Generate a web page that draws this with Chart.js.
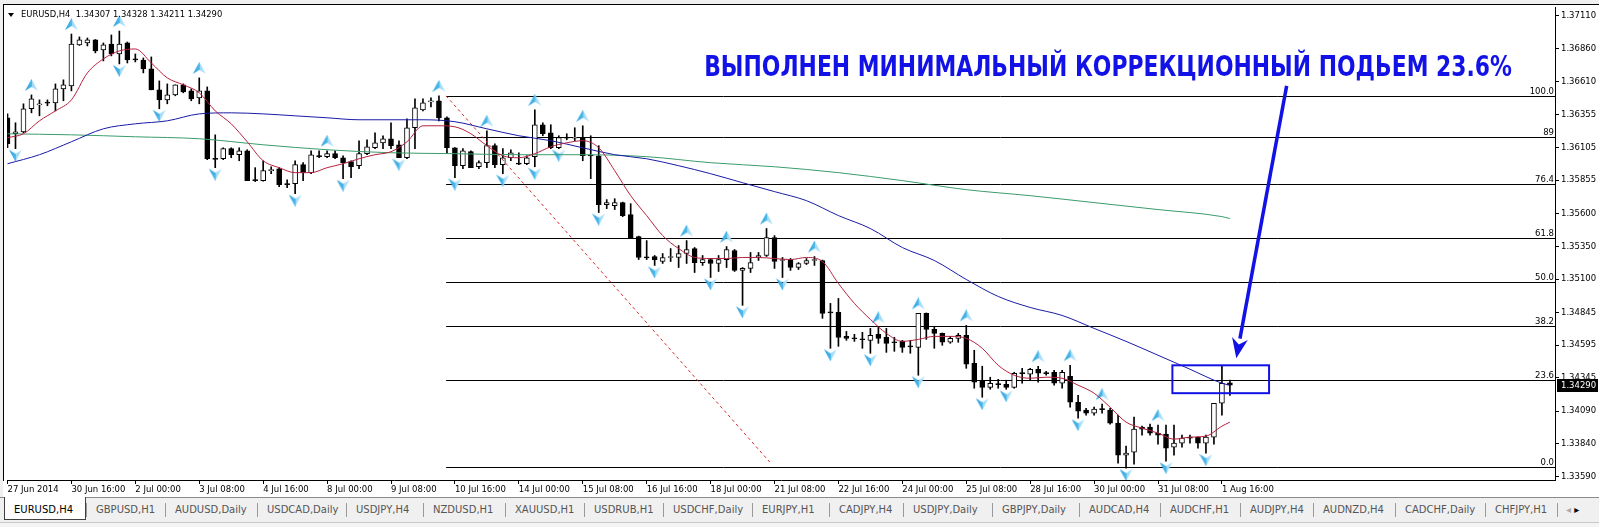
<!DOCTYPE html>
<html>
<head>
<meta charset="utf-8">
<title>EURUSD,H4</title>
<script src="https://cdn.jsdelivr.net/npm/chart.js@4.4.1/dist/chart.umd.min.js"></script>
<style>
  html, body { margin: 0; padding: 0; background: #f0f0f0; }
  #wrap { position: absolute; left: 0; top: 0; width: 1599px; height: 497px; background: #fff; }
  #tabs { position: absolute; left: 0; top: 497px; width: 1599px; height: 30px; background: #f0f0f0;
          border-top: 1px solid #8a8a8a; font: 10px 'DejaVu Sans', sans-serif; color: #555; }
  .tab { position: absolute; top: 6px; white-space: nowrap; }
  .sep { position: absolute; top: 5px; width: 1px; height: 14px; background: #9a9a9a; }
  .active { position: absolute; left: 4px; top: -1px; width: 80px; height: 22px; background: #fff;
            border: 1px solid #404040; border-top: none; }
  .status { position: absolute; left: 0; top: 24px; width: 1599px; height: 6px; border-top: 1px solid #c8c8c8; background: #f4f4f4; }
</style>
</head>
<body>
<div id="wrap"><canvas id="graph"></canvas></div>
<div id="tabs"></div>
<script>
// EURUSD H4 bars, 27 Jun 2014 .. 1 Aug 2014 20:00
const opens = [1.36332,1.36210,1.36225,1.36401,1.36431,1.36446,1.36446,1.36553,1.36576,1.36889,
  1.36904,1.36927,1.36850,1.36896,1.36820,1.36904,1.36782,1.36774,1.36706,1.36546,
  1.36469,1.36507,1.36584,1.36538,1.36484,1.36538,1.36019,1.36019,1.36096,1.36050,
  1.36080,1.35859,1.35852,1.35928,1.35943,1.35829,1.35829,1.35974,1.35913,1.36042,
  1.36035,1.36058,1.36027,1.35997,1.35966,1.36058,1.36103,1.36141,1.36172,1.36126,
  1.36027,1.36256,1.36393,1.36454,1.36462,1.36332,1.36103,1.35966,1.36073,1.35958,
  1.35989,1.36119,1.35974,1.36027,1.35981,1.35981,1.36035,1.36279,1.36218,1.36103,
  1.36180,1.36176,1.36180,1.36042,1.36042,1.35669,1.35661,1.35684,1.35592,1.35425,
  1.35265,1.35272,1.35234,1.35265,1.35265,1.35295,1.35333,1.35226,1.35249,1.35219,
  1.35249,1.35318,1.35166,1.35181,1.35265,1.35280,1.35417,1.35242,1.35249,1.35188,
  1.35219,1.35242,1.35242,1.34845,1.34845,1.34662,1.34647,1.34639,1.34632,1.34678,
  1.34655,1.34617,1.34624,1.34586,1.34578,1.34838,1.34716,1.34685,1.34617,1.34647,
  1.34670,1.34456,1.34319,1.34273,1.34296,1.34296,1.34273,1.34380,1.34373,1.34411,
  1.34380,1.34388,1.34304,1.34357,1.34159,1.34098,1.34075,1.34106,1.34098,1.33999,
  1.33755,1.33778,1.33969,1.33969,1.33923,1.33915,1.33816,1.33847,1.33892,1.33892,
  1.33847,1.33892,1.34151,1.34307];
const highs = [1.36362,1.36294,1.36439,1.36507,1.36469,1.36469,1.36591,1.36622,1.36972,1.36950,
  1.36942,1.36930,1.36904,1.36965,1.36995,1.36911,1.36820,1.36789,1.36797,1.36614,
  1.36591,1.36584,1.36591,1.36553,1.36637,1.36568,1.36202,1.36103,1.36103,1.36103,
  1.36088,1.35951,1.36004,1.35958,1.35951,1.35859,1.36004,1.35989,1.36080,1.36080,
  1.36080,1.36080,1.36042,1.36004,1.36157,1.36164,1.36218,1.36195,1.36294,1.36157,
  1.36324,1.36477,1.36477,1.36484,1.36500,1.36340,1.36105,1.36096,1.36080,1.36004,
  1.36233,1.36134,1.36096,1.36088,1.36065,1.36042,1.36393,1.36294,1.36279,1.36195,
  1.36210,1.36256,1.36271,1.36195,1.36119,1.35707,1.35714,1.35688,1.35676,1.35428,
  1.35394,1.35280,1.35295,1.35333,1.35356,1.35394,1.35341,1.35280,1.35257,1.35280,
  1.35348,1.35326,1.35188,1.35303,1.35303,1.35486,1.35432,1.35265,1.35257,1.35226,
  1.35257,1.35272,1.35245,1.34914,1.34952,1.34700,1.34678,1.34693,1.34723,1.34731,
  1.34723,1.34655,1.34632,1.34632,1.34838,1.34841,1.34731,1.34688,1.34662,1.34685,
  1.34746,1.34556,1.34434,1.34350,1.34334,1.34327,1.34388,1.34418,1.34418,1.34434,
  1.34395,1.34403,1.34403,1.34441,1.34212,1.34113,1.34121,1.34144,1.34113,1.34060,
  1.33824,1.34045,1.33976,1.33991,1.33984,1.33984,1.33984,1.33908,1.33908,1.33895,
  1.33908,1.34151,1.34434,1.34328];
const lows = [1.36103,1.36096,1.36218,1.36370,1.36347,1.36424,1.36385,1.36462,1.36538,1.36885,
  1.36881,1.36828,1.36767,1.36805,1.36744,1.36751,1.36759,1.36675,1.36546,1.36401,
  1.36439,1.36500,1.36523,1.36462,1.36439,1.36012,1.35951,1.36012,1.36027,1.36004,
  1.35852,1.35845,1.35848,1.35905,1.35806,1.35798,1.35753,1.35852,1.35905,1.36027,
  1.36027,1.36019,1.35867,1.35875,1.35943,1.36050,1.36096,1.36096,1.36096,1.36027,
  1.36020,1.36096,1.36385,1.36416,1.36309,1.36058,1.35875,1.35943,1.35951,1.35943,
  1.35951,1.35951,1.35905,1.36004,1.35974,1.35974,1.35958,1.36195,1.36096,1.36096,
  1.36164,1.36157,1.36004,1.35867,1.35608,1.35638,1.35631,1.35577,1.35417,1.35249,
  1.35249,1.35204,1.35219,1.35234,1.35188,1.35219,1.35150,1.35204,1.35112,1.35158,
  1.35188,1.35158,1.34899,1.35150,1.35242,1.35272,1.35181,1.35112,1.35166,1.35173,
  1.35211,1.35204,1.34800,1.34571,1.34586,1.34632,1.34624,1.34571,1.34533,1.34609,
  1.34540,1.34548,1.34540,1.34533,1.34365,1.34639,1.34571,1.34594,1.34609,1.34617,
  1.34418,1.34266,1.34197,1.34258,1.34266,1.34258,1.34266,1.34304,1.34327,1.34312,
  1.34365,1.34289,1.34266,1.34121,1.34037,1.34060,1.34060,1.34075,1.33991,1.33694,
  1.33656,1.33686,1.33908,1.33908,1.33839,1.33709,1.33755,1.33816,1.33847,1.33808,
  1.33770,1.33839,1.34060,1.34211];
const closes = [1.36134,1.36225,1.36401,1.36477,1.36439,1.36444,1.36553,1.36584,1.36896,1.36927,
  1.36927,1.36843,1.36889,1.36820,1.36896,1.36774,1.36774,1.36706,1.36546,1.36469,
  1.36507,1.36584,1.36530,1.36477,1.36538,1.36019,1.36015,1.36096,1.36050,1.36080,
  1.35852,1.35852,1.35928,1.35936,1.35821,1.35821,1.35974,1.35913,1.36050,1.36035,
  1.36058,1.36027,1.35989,1.35958,1.36058,1.36111,1.36141,1.36172,1.36119,1.36027,
  1.36256,1.36408,1.36446,1.36462,1.36332,1.36103,1.35966,1.36080,1.35951,1.35989,
  1.36119,1.35974,1.36027,1.36065,1.35978,1.36027,1.36279,1.36210,1.36103,1.36180,
  1.36176,1.36180,1.36042,1.36040,1.35669,1.35684,1.35684,1.35585,1.35417,1.35265,
  1.35262,1.35249,1.35265,1.35272,1.35295,1.35326,1.35226,1.35249,1.35219,1.35249,
  1.35326,1.35166,1.35181,1.35226,1.35280,1.35417,1.35234,1.35249,1.35188,1.35219,
  1.35242,1.35246,1.34838,1.34842,1.34655,1.34647,1.34644,1.34636,1.34670,1.34647,
  1.34609,1.34613,1.34578,1.34582,1.34838,1.34716,1.34685,1.34617,1.34647,1.34670,
  1.34449,1.34312,1.34273,1.34304,1.34293,1.34273,1.34380,1.34377,1.34411,1.34380,
  1.34377,1.34304,1.34388,1.34159,1.34090,1.34075,1.34106,1.34102,1.33999,1.33755,
  1.33770,1.33953,1.33953,1.33923,1.33908,1.33808,1.33847,1.33885,1.33885,1.33847,
  1.33892,1.34151,1.34304,1.34290];

// moving averages, read at sample bars
const maRedBars = [0,2,4,6,8,10,12,14,16,18,20,22,24,26,28,30,32,34,36,38,40,42,44,46,48,50,52,54,56,58,
  60,62,64,66,68,70,72,74,76,78,80,82,84,86,88,90,92,94,96,98,100,102,104,106,108,110,112,114,116,118,
  120,122,124,126,128,130,132,134,136,138,140,142,144,146,148,150,152,153];
const maRed = [1.36180,1.36210,1.36309,1.36385,1.36469,1.36675,1.36782,1.36843,1.36858,1.36751,
  1.36637,1.36584,1.36523,1.36385,1.36286,1.36149,1.36004,1.35951,1.35913,1.35913,
  1.35951,1.35981,1.36019,1.36050,1.36073,1.36149,1.36271,1.36271,1.36263,1.36210,
  1.36119,1.36042,1.36027,1.36058,1.36111,1.36141,1.36157,1.36103,1.35928,1.35737,
  1.35585,1.35432,1.35333,1.35265,1.35257,1.35257,1.35265,1.35265,1.35257,1.35249,
  1.35265,1.35234,1.35066,1.34914,1.34792,1.34685,1.34624,1.34639,1.34662,1.34662,
  1.34647,1.34571,1.34441,1.34365,1.34342,1.34350,1.34342,1.34289,1.34228,1.34121,
  1.34007,1.33961,1.33923,1.33877,1.33892,1.33900,1.33976,1.34007];
const maBlueBars = [0,4,8,12,16,20,24,28,32,36,40,44,48,52,56,60,64,68,72,76,80,84,88,92,96,100,
  104,108,112,116,120,124,128,132,136,140,144,148,152,153];
const maBlue = [1.35981,1.36050,1.36149,1.36248,1.36286,1.36309,1.36362,1.36370,1.36362,1.36347,
  1.36332,1.36317,1.36317,1.36317,1.36302,1.36248,1.36195,1.36157,1.36103,1.36050,
  1.36019,1.35966,1.35905,1.35836,1.35768,1.35699,1.35585,1.35486,1.35341,1.35242,
  1.35097,1.34967,1.34883,1.34822,1.34723,1.34624,1.34518,1.34411,1.34304,1.34289];
const maGreenBars = [0,8,16,24,32,40,48,56,64,72,80,88,96,104,112,120,128,136,144,152,153];
const maGreen = [1.36210,1.36202,1.36187,1.36172,1.36126,1.36088,1.36065,1.36058,1.36050,1.36050,
  1.36035,1.35989,1.35958,1.35913,1.35852,1.35783,1.35737,1.35684,1.35631,1.35577,1.35562];

// fractal bars
const fracUp = [3,8,14,24,40,54,60,66,72,85,90,95,101,109,114,120,129,133,137,144];
const fracDown = [1,14,19,26,36,42,49,56,62,66,69,74,81,88,92,97,103,108,114,122,125,134,140,145,150];

// axis labels
const dateBars = [0,8,16,24,32,40,48,56,64,72,80,88,96,104,112,120,128,136,144,152];
const dateLabels = ['27 Jun 2014','30 Jun 16:00','2 Jul 00:00','3 Jul 08:00','4 Jul 16:00','8 Jul 00:00',
  '9 Jul 08:00','10 Jul 16:00','14 Jul 00:00','15 Jul 08:00','16 Jul 16:00','18 Jul 00:00','21 Jul 08:00',
  '22 Jul 16:00','24 Jul 00:00','25 Jul 08:00','28 Jul 16:00','30 Jul 00:00','31 Jul 08:00','1 Aug 16:00'];
const priceTicks = [1.37110,1.36860,1.36610,1.36355,1.36105,1.35855,1.35600,1.35350,1.35100,
  1.34845,1.34595,1.34345,1.34090,1.33840,1.33590];

// fibo retracement
const fibLevels = [0, 23.6, 38.2, 50, 61.8, 76.4, 89, 100];
const fibNames = ['0.0','23.6','38.2','50.0','61.8','76.4','89','100.0'];
const fibHigh = 1.36495, fibLow = 1.33662, fibStart = 54.9;
const trendLine = [{x: 54.9, y: 1.36500}, {x: 95.4, y: 1.33702}];

const noteText = 'ВЫПОЛНЕН МИНИМАЛЬНЫЙ КОРРЕКЦИОННЫЙ ПОДЬЕМ 23.6%';

const tabNames = ['EURUSD,H4','GBPUSD,H1','AUDUSD,Daily','USDCAD,Daily','USDJPY,H4','NZDUSD,H1','XAUUSD,H1',
  'USDRUB,H1','USDCHF,Daily','EURJPY,H1','CADJPY,H4','USDJPY,Daily','GBPJPY,Daily','AUDCAD,H4','AUDCHF,H1',
  'AUDJPY,H4','AUDNZD,H4','CADCHF,Daily','CHFJPY,H1'];
const tabLeft = [14,96,175,267,356,433,515,594,673,762,839,913,1002,1089,1170,1250,1323,1405,1495];

const BLUE = '#1212e6';

window.onload = function () {
  buildTabs(document.querySelector('#tabs'));
  loadChart(document.querySelector('#graph'));
}

function buildTabs(el) {
  el.innerHTML = '<div class="active"></div><div class="status"></div>';
  tabNames.forEach((n, k) => {
    const t = document.createElement('div');
    t.className = 'tab';
    t.style.left = tabLeft[k] + 'px';
    t.style.color = k === 0 ? '#000' : '#555';
    t.textContent = n;
    el.appendChild(t);
    if (k > 0) {
      const s = document.createElement('div');
      s.className = 'sep';
      s.style.left = (tabLeft[k] - 10) + 'px';
      el.appendChild(s);
    }
  });
  const s = document.createElement('div');
  s.className = 'sep';
  s.style.left = '1557px';
  el.appendChild(s);
  const a = document.createElement('div');
  a.className = 'tab';
  a.style.left = '1566px';
  a.style.color = '#aaa';
  a.innerHTML = '&#9666; <span style="color:#000">&#9656;</span>';
  el.appendChild(a);
}

function arrowImage(up) {
  // fractal arrowhead, padded so that it sits off the bar's high/low
  const off = up ? 10 : 7;
  const c = document.createElement('canvas');
  c.width = 13; c.height = 2 * (off + 6);
  const g = c.getContext('2d');
  g.save();
  if (!up) { g.translate(0, c.height); g.scale(1, -1); }
  const grad = g.createLinearGradient(0, 0, 13, 0);
  grad.addColorStop(0, '#2a9fdc');
  grad.addColorStop(0.5, '#4fb8ea');
  grad.addColorStop(0.51, '#9ad8f6');
  grad.addColorStop(1, '#bfe6fa');
  g.fillStyle = grad;
  g.beginPath();
  g.moveTo(6.5, 0); g.lineTo(13, 12); g.lineTo(6.5, 8); g.lineTo(0, 12); g.closePath();
  g.fill();
  g.restore();
  return c;
}

function loadChart(element) {
  const idx = opens.map((v, i) => i);
  const bodies = idx.map(i => ({x: i, y: [opens[i], closes[i]]}));
  const wicks = idx.map(i => ({x: i, y: [lows[i], highs[i]]}));
  const bodyColors = idx.map(i => closes[i] >= opens[i] ? '#ffffff' : '#000000');
  const series = (bars, vals) => bars.map((b, k) => ({x: b, y: vals[k]}));

  const overlay = {
    id: 'overlay',
    beforeDraw(chart) {
      const {ctx, chartArea: a} = chart;
      ctx.save();
      ctx.fillStyle = '#f0f0f0';
      ctx.fillRect(0, 0, chart.width, 4);
      ctx.fillRect(0, 0, 3, chart.height);
      ctx.fillStyle = '#000';
      ctx.fillRect(3, 4, 1, a.bottom - 3);
      ctx.fillRect(3, 4, 1597, 1);
      ctx.restore();
    },
    beforeDatasetsDraw(chart) {
      const {ctx, chartArea: a, scales: {x, y}} = chart;
      ctx.save();
      ctx.strokeStyle = '#000';
      ctx.lineWidth = 1;
      fibLevels.forEach(l => {
        const py = Math.round(y.getPixelForValue(fibLow + (fibHigh - fibLow) * l / 100)) + 0.5;
        ctx.beginPath();
        ctx.moveTo(x.getPixelForValue(fibStart), py);
        ctx.lineTo(a.right, py);
        ctx.stroke();
      });
      ctx.restore();
    },
    afterDatasetsDraw(chart) {
      const {ctx, chartArea: a, scales: {x, y}} = chart;
      ctx.save();
      // fibo level captions
      ctx.fillStyle = '#000';
      ctx.font = '8.5px "DejaVu Sans"';
      ctx.textAlign = 'right';
      ctx.textBaseline = 'bottom';
      fibLevels.forEach((l, k) => {
        const py = y.getPixelForValue(fibLow + (fibHigh - fibLow) * l / 100);
        ctx.fillText(fibNames[k], a.right - 1, py);
      });
      // header
      const last = opens.length - 1;
      ctx.textAlign = 'left';
      ctx.textBaseline = 'middle';
      ctx.beginPath();
      ctx.moveTo(8, 13); ctx.lineTo(14, 13); ctx.lineTo(11, 17); ctx.closePath(); ctx.fill();
      ctx.font = '8.4px "DejaVu Sans"';
      ctx.fillText('EURUSD,H4  ' + [opens[last], highs[last], lows[last], closes[last]].map(v => v.toFixed(5)).join(' '), 21, 15);
      // current price box
      ctx.font = '8.5px "DejaVu Sans"';
      const cy = Math.round(y.getPixelForValue(closes[last]));
      ctx.fillRect(a.right + 2, cy - 6, chart.width - a.right - 3, 13);
      ctx.fillStyle = '#fff';
      ctx.fillText(closes[last].toFixed(5), a.right + 6, cy + 0.5);
      // annotation: text, box, arrow
      ctx.fillStyle = BLUE;
      ctx.strokeStyle = BLUE;
      ctx.font = 'bold 28.5px "DejaVu Sans"';
      ctx.textBaseline = 'alphabetic';
      const tx = x.getPixelForValue(87.2);
      ctx.fillText(noteText, tx, y.getPixelForValue(1.36652), x.getPixelForValue(188.3) - tx);
      ctx.lineWidth = 2;
      const rx1 = x.getPixelForValue(145.8), rx2 = x.getPixelForValue(157.9);
      const ry1 = y.getPixelForValue(1.34441), ry2 = y.getPixelForValue(1.34228);
      ctx.strokeRect(rx1, ry1, rx2 - rx1, ry2 - ry1);
      const ax1 = x.getPixelForValue(160.1), ay1 = y.getPixelForValue(1.36576);
      const ax2 = x.getPixelForValue(153.8), ay2 = y.getPixelForValue(1.34495);
      const ang = Math.atan2(ay2 - ay1, ax2 - ax1);
      const hl = 20, hw = 8;
      const bx = ax2 - hl * Math.cos(ang), by = ay2 - hl * Math.sin(ang);
      ctx.lineWidth = 3.5;
      ctx.beginPath(); ctx.moveTo(ax1, ay1); ctx.lineTo(bx, by); ctx.stroke();
      ctx.beginPath();
      ctx.moveTo(ax2, ay2);
      ctx.lineTo(bx + hw * Math.sin(ang), by - hw * Math.cos(ang));
      ctx.lineTo(ax2 - (hl - 6) * Math.cos(ang), ay2 - (hl - 6) * Math.sin(ang));
      ctx.lineTo(bx - hw * Math.sin(ang), by + hw * Math.cos(ang));
      ctx.closePath();
      ctx.fill();
      ctx.restore();
    }
  };

  const tickFont = {family: 'DejaVu Sans', size: 8.5};

  new Chart(element, {
    type: 'bar',
    data: {
      datasets: [
        {type: 'line', data: series(maRedBars, maRed), borderColor: '#b5213f', borderWidth: 1,
          pointRadius: 0, cubicInterpolationMode: 'monotone', order: 0},
        {type: 'line', data: series(maBlueBars, maBlue), borderColor: '#1a1aa6', borderWidth: 1,
          pointRadius: 0, cubicInterpolationMode: 'monotone', order: 0},
        {type: 'line', data: series(maGreenBars, maGreen), borderColor: '#3a9c6c', borderWidth: 1,
          pointRadius: 0, cubicInterpolationMode: 'monotone', order: 0},
        {type: 'line', data: trendLine, borderColor: '#d42a2a', borderWidth: 1, borderDash: [3, 3],
          pointRadius: 0, order: 0},
        {type: 'line', data: fracUp.map(i => ({x: i, y: highs[i]})), showLine: false,
          pointStyle: arrowImage(true), pointRadius: 6, order: 0},
        {type: 'line', data: fracDown.map(i => ({x: i, y: lows[i]})), showLine: false,
          pointStyle: arrowImage(false), pointRadius: 6, order: 0},
        {data: bodies, backgroundColor: bodyColors, borderColor: '#000', borderWidth: 1,
          borderSkipped: false, barThickness: 5, minBarLength: 1, grouped: false, order: 1},
        {data: wicks, backgroundColor: '#000', borderWidth: 0, barThickness: 1,
          minBarLength: 1, grouped: false, order: 2}
      ]
    },
    options: {
      responsive: true,
      maintainAspectRatio: false,
      animation: false,
      events: [],
      layout: {padding: {left: 5, top: 6, right: 0, bottom: 0}},
      plugins: {legend: {display: false}, tooltip: {enabled: false}},
      scales: {
        x: {
          type: 'linear', position: 'bottom', min: -0.0625, max: 193.6875, offset: false,
          grid: {drawOnChartArea: false, tickLength: 4, color: '#000', offset: false},
          border: {color: '#000'},
          afterBuildTicks: s => { s.ticks = dateBars.map(v => ({value: v})); },
          afterFit: s => { s.height = 17; s.paddingLeft = 0; s.paddingRight = 0; },
          ticks: {autoSkip: false, maxRotation: 0, align: 'start', padding: 1, color: '#000', font: tickFont,
            callback: v => dateLabels[dateBars.indexOf(v)]}
        },
        y: {
          type: 'linear', position: 'right', min: 1.335647, max: 1.371786,
          grid: {drawOnChartArea: false, tickLength: 4, color: '#000'},
          border: {color: '#000'},
          afterBuildTicks: s => { s.ticks = priceTicks.map(v => ({value: v})); },
          afterFit: s => { s.width = 44; s.paddingTop = 0; s.paddingBottom = 0; },
          ticks: {padding: 2, color: '#000', font: tickFont, callback: v => v.toFixed(5)}
        }
      }
    },
    plugins: [overlay]
  });
}
</script>
</body>
</html>
